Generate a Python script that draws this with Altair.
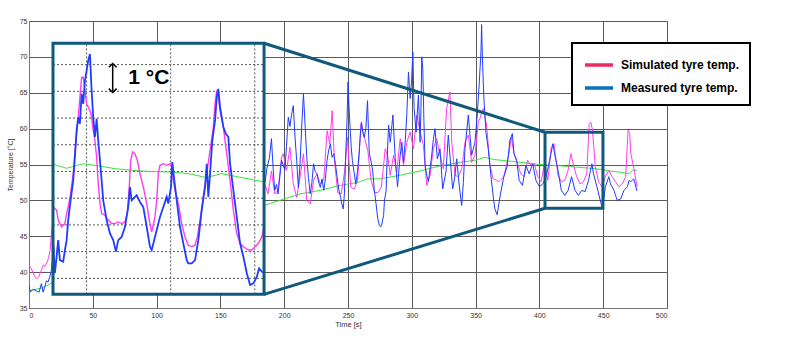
import altair as alt
import pandas as pd

# ---------------- main chart series (time [s], temperature [°C]) ----------------
meas_t = [0, 1, 3.1, 5.8, 7.9, 9.7, 11, 12.3, 13.6, 14.9, 16.2, 17.5, 18.3, 19.5,
          185, 186.5, 188.5, 190, 191.5, 192.6, 194, 195.2, 197.9, 200.5, 201.8, 203.2, 204.5, 205.8,
          207.1, 208.5, 209.8, 211.1, 212.4, 213.8, 215.1, 216.4, 217.7, 219, 220.4, 221.7, 223,
          224.3, 225.7, 227, 228.3, 229.6, 231, 232.3, 233.6, 234.9, 236.2, 237.5, 238.9, 240.2,
          241.5, 242.8, 244.2, 245.2, 246.3, 247.2, 248.1, 249.2, 250, 250.8, 251.6, 252.5, 253.4,
          254.7, 256.1, 257.4, 258.7, 259.6, 260.6, 261.6, 262.7, 264, 265.3, 266.0, 266.7, 268,
          269.3, 270.6, 272, 273.3, 274.6, 275.5, 276.5, 277.9, 278.6, 279.9, 280.5, 281.8, 283.1,
          285.2, 287, 288.8, 290.9, 292.2, 293.5, 294.8, 296.1, 297.4, 298.7, 299.8, 300.8, 301.8,
          303.4, 305.2, 306.5, 307.2, 307.8, 308.6, 309.5, 310.4, 311.7, 313, 315.6, 316.9, 318.2,
          320, 322.1, 324.2, 326.8, 328.6, 329.9, 332, 333.5, 335.2, 337.2, 339.1, 340.4, 341.7,
          344.3, 346.9, 349.5, 351.3, 352.9, 354.2, 354.7, 355.5, 356.5, 358.1, 359.9, 362.5, 364.2,
          365.1, 366.9, 369.5, 372.1, 374.7, 376.9, 378.8, 380.1, 382.2, 384.1, 386.7, 389.4, 392,
          394.7, 397.3, 400, 402.7, 405.3, 408, 410.6, 411.9, 414.6, 417.2, 419.9, 422.5, 425.2,
          427.9, 430.5, 433.2, 435.8, 438.5, 441.1, 442.4, 445.1, 447.7, 449.6, 451.7, 454.4, 455.7,
          458.4, 461, 463.7, 466.3, 469, 470.3, 471.6, 474, 476.5]
meas_T = [38.2, 37.2, 37.6, 37.4, 37.2, 38.4, 37.2, 37.9, 38.8, 38.6, 39.3, 40.2, 41.6, 42.5,
          52.5, 54.5, 56.0, 58.6, 54.0, 51.4, 52.2, 50.9, 55.6, 54.2, 57.5, 61.6, 60.3, 62.0,
          63.2, 58.8, 55.5, 51.8, 55.1, 60.5, 64.9, 60.3, 56.0, 53.2, 50.9, 52.5, 55.1,
          54.0, 53.7, 52.5, 51.8, 53.0, 51.4, 53.0, 55.6, 57.0, 57.9, 56.0, 56.5, 55.0,
          53.2, 51.5, 50.4, 49.5, 48.8, 51.0, 55.6, 61.0, 66.5, 63.0, 60.3, 57.5, 55.6,
          54.0, 52.3, 54.0, 56.5, 59.0, 60.9, 59.5, 58.8, 60.0, 63.9, 60.0, 56.5, 55.5,
          54.2, 51.5, 49.5, 47.5, 46.5, 46.3, 46.7, 47.9, 50.0, 51.4, 54.9, 60.5, 58.1,
          61.9, 55.8, 51.9, 56.3, 58.1, 55.3, 58.1, 62.0, 67.9, 64.2, 66.5, 70.7, 62.8,
          59.5, 64.7, 58.1, 63.0, 70.0, 68.4, 61.0, 54.9, 53.5, 52.6, 56.3, 58.5, 60.0,
          55.8, 57.2, 51.6, 54.0, 59.1, 56.3, 51.6, 53.0, 55.8, 52.0, 49.3, 52.5, 57.2,
          61.9, 56.3, 58.1, 61.9, 66.5, 70.7, 74.5, 68.8, 64.2, 59.5, 57.2, 52.6, 50.0,
          48.8, 48.0, 50.9, 53.3, 54.7, 58.4, 59.3, 56.5, 55.6, 52.8, 52.1, 54.9, 53.7,
          55.1, 52.8, 51.9, 52.3, 53.3, 55.6, 57.9, 56.5, 54.2, 51.4, 50.7, 51.4, 53.3,
          51.4, 50.7, 51.4, 51.2, 52.8, 55.1, 53.7, 51.9, 50.0, 48.8, 51.9, 53.3, 52.3,
          51.4, 50.0, 50.2, 51.4, 51.9, 52.8, 52.6, 53.0, 51.3]

sim_t = [0, 1.5, 3, 4.5, 6, 7.5, 8.6, 10, 11.2, 12.5, 14, 15.2, 16.5, 17.8, 18.6, 19.5,
         184.7, 187.3, 190, 192.6, 195.2, 197.9, 199.2, 201.9, 204.5, 207.1, 209.8, 212.4, 215.1,
         217.7, 220.4, 223, 225.7, 228.3, 231, 233.6, 235.7, 237.6, 239.4, 242, 244.7, 247.4,
         249.5, 252.2, 254.9, 257.5, 260.2, 262.8, 265.5, 268.1, 270.8, 273.5, 276.1, 279.2, 281,
         283.1, 285.7, 288.3, 290.9, 293.5, 296.1, 298.7, 301.3, 303.9, 306.5, 309.1, 311.7, 314.3,
         316.9, 319.5, 322.1, 324.7, 327.3, 329.9, 331.3, 333.9, 336.5, 339.1, 341.7, 344.3, 346.9,
         349.5, 352.1, 353.4, 356, 358.6, 361.2, 363.8, 366.4, 368.2, 372.1, 376.1, 378, 380.1,
         382.8, 385.4, 388.1, 390.7, 393.4, 396, 398.7, 401.3, 404, 406.6, 409.3, 411.4, 414.6,
         417.2, 419.9, 422.5, 424.7, 426.5, 429.2, 431.8, 434.5, 437.1, 439, 440.3, 441.6, 443.8,
         446.4, 449.1, 451.7, 454.4, 457, 459.7, 462.3, 465, 467.6, 469.5, 470.8, 471.6, 474, 476.5]
sim_T = [41.0, 40.6, 40.0, 39.4, 39.1, 39.3, 39.8, 40.4, 41.0, 40.8, 41.3, 41.9, 43.0, 45.8, 47.2, 49.0,
         52.3, 50.9, 54.1, 50.9, 51.4, 56.0, 56.5, 54.2, 57.4, 52.3, 50.4, 53.2, 56.5,
         50.0, 49.5, 52.8, 53.7, 52.3, 52.8, 59.7, 57.9, 62.5, 55.5, 51.1, 50.9, 54.1,
         58.8, 51.8, 51.6, 52.8, 60.7, 58.8, 57.0, 52.8, 51.1, 51.1, 51.8, 57.2, 56.3,
         53.5, 56.3, 54.0, 58.6, 54.9, 58.1, 59.5, 57.2, 61.9, 59.5, 57.7, 52.1, 53.5,
         57.2, 58.6, 56.3, 54.4, 62.8, 65.1, 58.1, 53.5, 53.3, 54.4, 58.1, 59.1, 55.3,
         56.3, 60.9, 61.4, 62.8, 60.5, 54.9, 53.0, 52.8, 52.6, 53.3, 56.5, 58.8, 56.5,
         55.1, 53.7, 53.3, 55.6, 54.9, 55.1, 53.3, 52.6, 55.1, 52.8, 57.4, 57.9, 53.5,
         52.6, 52.8, 54.2, 56.5, 55.1, 53.3, 52.3, 52.6, 53.7, 60.7, 60.9, 59.8, 54.7,
         52.6, 51.9, 53.3, 54.2, 53.3, 52.6, 51.9, 52.3, 53.3, 59.8, 59.3, 56.6, 54.5, 51.9]

amb_t = [0, 5, 10, 15, 18.8, 184.5, 196.5, 212.4, 228.3, 244.2, 257.5, 265.5, 275.3, 290.9,
         306.5, 322.1, 337.8, 350, 357, 364.2, 380.1, 400, 417.2, 438.5, 449.1, 454.4, 465, 470, 473, 476.5]
amb_T = [37.4, 37.6, 37.8, 38.2, 38.6, 49.3, 50.0, 50.9, 51.4, 52.1, 52.5, 53.0, 53.0, 53.5,
         54.1, 54.8, 55.3, 55.6, 56.0, 55.7, 55.4, 55.0, 54.8, 54.5, 54.3, 54.1, 53.9, 53.7, 54.2, 54.2]

# ---------------- magnified inset series (time [s], temperature [°C]) ----------------
in_meas_t = [402.05, 402.45, 402.86, 403.24, 403.64, 404.43, 404.83, 405.24, 405.62, 406.19, 406.81,
             407.21, 407.62, 408.0, 408.4, 408.81, 409.19, 409.6, 410.0, 410.38, 410.79, 411.19,
             411.57, 411.98, 412.38, 412.76, 413.17, 413.57, 413.95, 414.76, 415.55, 416.33, 416.98,
             417.52, 418.33, 419.12, 419.9, 420.31, 420.71, 421.5, 421.9, 422.69, 423.48, 424.29,
             425.07, 425.48, 426.26, 427.45, 428.24, 429.05, 429.43, 430.07, 430.38, 430.86, 431.43,
             432.21, 433.0, 433.81, 434.19, 435.0, 435.79, 436.57, 437.38, 438.17, 438.57, 438.95,
             439.36, 439.9, 440.55, 440.95, 441.33, 441.74, 442.52, 443.1, 443.71, 444.12, 444.9,
             445.71, 446.5, 447.29, 448.1, 448.88, 449.67, 450.48, 451.02, 451.67, 452.2]
in_meas_T = [51.31, 50.19, 50.81, 51.43, 50.68, 50.62, 51.06, 51.43, 52.18, 52.92, 53.67,
             54.54, 55.54, 56.03, 55.79, 56.91, 56.53, 57.40, 57.78, 58.15, 58.40, 57.03,
             56.03, 55.29, 55.97, 55.16, 54.42, 53.67, 52.92, 52.18, 51.68, 51.43, 51.0,
             51.43, 51.55, 51.93, 52.67, 53.42, 52.92, 53.05, 53.11, 52.86, 52.67, 51.93,
             51.18, 51.06, 51.55, 52.30, 52.67, 53.05, 52.80, 53.42, 54.35, 53.67, 52.92,
             51.93, 51.31, 50.68, 50.56, 50.56, 50.68, 51.43, 52.55, 53.42, 54.29, 53.05,
             53.92, 55.16, 55.91, 56.78, 57.09, 56.41, 55.66, 55.41, 55.29, 54.29, 53.30,
             52.30, 51.31, 50.81, 50.19, 49.75, 49.81, 50.06, 50.37, 50.25, 50.19]

in_sim_t = [402.05, 402.86, 403.24, 404.05, 404.83, 405.24, 405.62, 406.19, 406.81, 407.45, 408.0,
            408.4, 408.81, 409.19, 409.6, 410.0, 410.38, 410.79, 411.19, 411.57, 411.98, 412.38,
            412.76, 413.17, 413.57, 414.36, 415.14, 415.95, 416.74, 417.52, 418.33, 419.12, 419.67,
            420.14, 420.48, 420.95, 421.5, 422.05, 422.69, 423.48, 424.29, 424.9, 425.48, 426.26,
            426.67, 427.05, 427.45, 428.24, 429.05, 429.83, 430.24, 430.62, 431.02, 431.81, 432.62,
            433.4, 434.19, 435.0, 435.79, 436.33, 436.98, 437.76, 438.57, 439.36, 440.14, 440.55,
            440.95, 441.33, 441.74, 442.52, 443.33, 444.12, 444.9, 445.71, 446.5, 447.29, 448.48,
            449.29, 450.07, 450.86, 451.67, 452.2]
in_sim_T = [52.67, 52.55, 52.18, 51.93, 52.05, 52.43, 52.67, 53.17, 53.92, 55.16, 56.03,
            56.78, 57.53, 57.53, 57.03, 56.53, 56.41, 56.28, 56.03, 55.54, 55.16, 54.54,
            53.55, 52.80, 52.43, 52.36, 52.18, 52.05, 52.05, 52.11, 52.05, 52.11, 52.43,
            53.42, 54.42, 54.73, 54.67, 54.42, 53.92, 53.42, 52.80, 52.18, 51.74, 52.30,
            52.92, 53.92, 54.23, 54.29, 54.23, 54.29, 54.17, 53.67, 53.30, 52.80, 52.05,
            51.55, 51.24, 51.18, 51.24, 51.55, 52.18, 53.05, 53.92, 54.79, 55.66, 56.53,
            57.03, 56.78, 56.28, 55.66, 54.67, 53.67, 52.55, 51.68, 51.31, 51.18, 51.06,
            51.06, 51.18, 51.31, 51.55, 51.93]

in_amb_t = [402.05, 405.24, 409.19, 413.17, 416.98, 420.95, 425.0, 430.0, 434.19, 438.57, 442.0, 446.0, 452.2]
in_amb_T = [54.27, 54.12, 54.29, 54.2, 54.1, 54.04, 54.0, 53.98, 53.92, 53.77, 53.92, 53.8, 53.61]

in_grid_t = [410, 430, 450]
in_grid_T = [50, 51, 52, 53, 54, 55, 56, 57, 58]

legend_names = ["Simulated tyre temp.", "Measured tyre temp."]
legend_colors = ["#ee2a62", "#0a70c0"]

# inset placement: where the magnifier sits (main axes) and which window it shows
BOX_T, BOX_Y = [18.8, 184.2], [36.9, 71.9]
VIEW_T, VIEW_Y = [402.0, 452.2], [49.4, 58.8]
SMALL_T, SMALL_Y = [404.4, 449.8], [48.9, 59.5]
ARROW_T, ARROW_Y = 416.2, [57.0, 58.0]
LABEL_T, LABEL_Y = 419.9, 57.5

TEAL = "#0f5a7c"
BLUE = "#1f3cff"
PINK = "#ff3cf0"
GREEN = "#33e833"


def mx(v):
    return BOX_T[0] + (v - VIEW_T[0]) * (BOX_T[1] - BOX_T[0]) / (VIEW_T[1] - VIEW_T[0])


def my(v):
    return BOX_Y[0] + (v - VIEW_Y[0]) * (BOX_Y[1] - BOX_Y[0]) / (VIEW_Y[1] - VIEW_Y[0])


def main_df(t, T):
    return pd.DataFrame({"x": t, "y": T})


def inset_df(t, T):
    return pd.DataFrame({"x": [mx(v) for v in t], "y": [my(v) for v in T]})


FONT = "Liberation Sans"
xaxis = alt.Axis(values=list(range(0, 501, 50)), title="Time [s]", grid=True, gridColor="#5a5a5a",
                 gridOpacity=1, ticks=False, domainColor="#777", labelFontSize=7, labelColor="#333",
                 labelFont=FONT, titleFont=FONT, titleFontSize=7.5, titleFontWeight="normal",
                 titleColor="#333", labelPadding=3, titlePadding=2)
yaxis = alt.Axis(values=list(range(35, 76, 5)), title="Temperature [°C]", grid=True, gridColor="#5a5a5a",
                 gridOpacity=1, ticks=False, domainColor="#777", labelFontSize=7, labelColor="#333",
                 labelFont=FONT, titleFont=FONT, titleFontSize=7, titleFontWeight="normal",
                 titleColor="#333", labelPadding=2, titlePadding=6)
X = alt.X("x:Q", scale=alt.Scale(domain=[0, 500], nice=False), axis=xaxis)
Y = alt.Y("y:Q", scale=alt.Scale(domain=[35, 75], nice=False, zero=False), axis=yaxis)


def line(df, color, width):
    return alt.Chart(df).mark_line(color=color, strokeWidth=width, clip=True).encode(x=X, y=Y)


layers = []
layers.append(line(main_df(amb_t, amb_T), GREEN, 1))
layers.append(line(main_df(sim_t, sim_T), PINK, 1))
layers.append(line(main_df(meas_t, meas_T), BLUE, 1))

box_df = pd.DataFrame({"x": [BOX_T[0]], "x2": [BOX_T[1]], "y": [BOX_Y[0]], "y2": [BOX_Y[1]]})
layers.append(alt.Chart(box_df).mark_rect(fill="white", strokeWidth=0).encode(x=X, x2="x2", y=Y, y2="y2"))

vgrid = pd.DataFrame({"x": [mx(v) for v in in_grid_t], "y": BOX_Y[0], "y2": BOX_Y[1]})
hgrid = pd.DataFrame({"y": [my(v) for v in in_grid_T], "x": BOX_T[0], "x2": BOX_T[1]})
layers.append(alt.Chart(vgrid).mark_rule(color="#555", strokeDash=[2, 2], strokeWidth=1)
              .encode(x=X, y=Y, y2="y2"))
layers.append(alt.Chart(hgrid).mark_rule(color="#555", strokeDash=[2, 2], strokeWidth=1)
              .encode(x=X, x2="x2", y=Y))

layers.append(line(inset_df(in_amb_t, in_amb_T), GREEN, 1))
layers.append(line(inset_df(in_sim_t, in_sim_T), PINK, 1.4))
layers.append(line(inset_df(in_meas_t, in_meas_T), BLUE, 1.8))

layers.append(alt.Chart(box_df).mark_rect(fill=None, stroke=TEAL, strokeWidth=3)
              .encode(x=X, x2="x2", y=Y, y2="y2"))

small_df = pd.DataFrame({"x": [SMALL_T[0]], "x2": [SMALL_T[1]], "y": [SMALL_Y[0]], "y2": [SMALL_Y[1]]})
layers.append(alt.Chart(small_df).mark_rect(fill=None, stroke=TEAL, strokeWidth=3)
              .encode(x=X, x2="x2", y=Y, y2="y2"))

conn_df = pd.DataFrame({"x": [BOX_T[1], BOX_T[1]], "x2": [SMALL_T[0], SMALL_T[0]],
                        "y": [BOX_Y[1], BOX_Y[0]], "y2": [SMALL_Y[1], SMALL_Y[0]]})
layers.append(alt.Chart(conn_df).mark_rule(color=TEAL, strokeWidth=3)
              .encode(x=X, x2="x2", y=Y, y2="y2"))

# 1 °C scale arrow inside the inset
arrow_df = pd.DataFrame({"x": [mx(ARROW_T)], "y": [my(ARROW_Y[0])], "y2": [my(ARROW_Y[1])]})
layers.append(alt.Chart(arrow_df).mark_rule(color="black", strokeWidth=1.5).encode(x=X, y=Y, y2="y2"))
layers.append(alt.Chart(pd.DataFrame({"x": [mx(ARROW_T)], "y": [my(ARROW_Y[1])]}))
              .mark_point(shape="M-1,0.7L0,-0.3L1,0.7", filled=False, color="black", strokeWidth=1.5, size=60,
                          opacity=1)
              .encode(x=X, y=Y))
layers.append(alt.Chart(pd.DataFrame({"x": [mx(ARROW_T)], "y": [my(ARROW_Y[0])]}))
              .mark_point(shape="M-1,-0.7L0,0.3L1,-0.7", filled=False, color="black", strokeWidth=1.5, size=60,
                          opacity=1)
              .encode(x=X, y=Y))
layers.append(alt.Chart(pd.DataFrame({"x": [mx(LABEL_T)], "y": [my(LABEL_Y)], "txt": ["1 °C"]}))
              .mark_text(align="left", baseline="middle", font=FONT, fontSize=21, fontWeight="bold",
                         color="black")
              .encode(x=X, y=Y, text="txt:N"))

# legend carrier (single points -> no visible line)
leg_df = pd.DataFrame({"x": [0, 0], "y": [35, 35], "series": legend_names})
layers.append(alt.Chart(leg_df).mark_line(strokeWidth=3).encode(
    x=X, y=Y,
    color=alt.Color("series:N", scale=alt.Scale(domain=legend_names, range=legend_colors),
                    sort=legend_names,
                    legend=alt.Legend(title=None, orient="none", legendX=543, legendY=22,
                                      symbolType="M-1.4,0L1.4,0", symbolStrokeWidth=3.5, symbolSize=400,
                                      symbolOffset=5, symbolFillColor="transparent",
                                      labelFont=FONT, labelFontSize=12, labelFontWeight="bold",
                                      labelColor="black", padding=10, rowPadding=4, labelOffset=10,
                                      strokeColor="black", fillColor="white"))))

chart = alt.layer(*layers).properties(
    width=638, height=287,
    autosize=alt.AutoSizeParams(type="none"),
    padding={"left": 29, "top": 21, "right": 133, "bottom": 47},
).configure_view(stroke="#888").configure_legend(strokeWidth=2)

chart.save("out.html", embed_options={"renderer": "svg", "actions": False})
